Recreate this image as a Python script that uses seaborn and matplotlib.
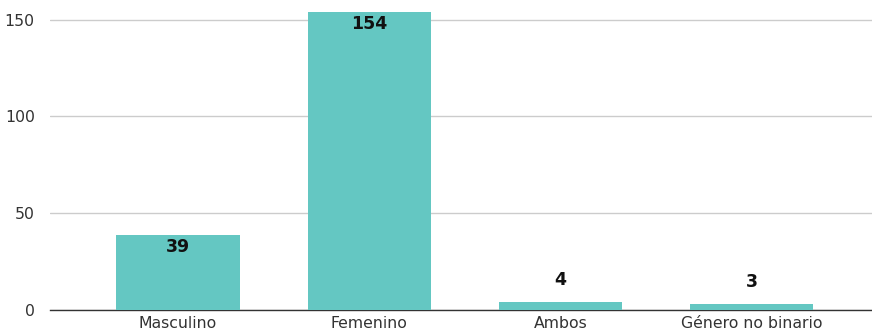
import matplotlib
matplotlib.use("Agg")
import matplotlib.pyplot as plt
import seaborn as sns
import pandas as pd

categories = ["Masculino", "Femenino", "Ambos", "Género no binario"]
values = [39, 154, 4, 3]
yticks = [0, 50, 100, 150]

sns.set_theme(style="white")
plt.rcParams['font.family'] = ['DejaVu Sans']

df = pd.DataFrame({"cat": categories, "val": values})

fig = plt.figure(figsize=(8.72, 3.36), dpi=100)
ax = fig.add_axes([50/872, 26/336, 1 - 50/872, (310 - 8)/336])

sns.barplot(data=df, x="cat", y="val", color="#64C7C2", saturation=1,
            width=0.645, ax=ax, zorder=3, linewidth=0)

ax.set_ylim(0, 156)
ax.set_xlim(-0.67, 3.63)
ax.set_yticks(yticks)
ax.yaxis.grid(True, color="#cccccc", linewidth=1, zorder=0)
ax.set_axisbelow(True)
for s in ["top", "right", "left"]:
    ax.spines[s].set_visible(False)
ax.spines["bottom"].set_color("#333333")
ax.spines["bottom"].set_linewidth(1)
ax.set_xlabel("")
ax.set_ylabel("")
ax.tick_params(axis="y", length=0, pad=11, labelsize=11.3, labelcolor="#333333")
ax.tick_params(axis="x", length=0, pad=4, labelsize=11.3, labelcolor="#333333")

for i, v in enumerate(values):
    off = -9 if v > 20 else 16
    ax.annotate(str(v), (i, v), xytext=(0, off), textcoords="offset points",
                ha="center", va="center", fontsize=12.5, fontweight="bold",
                color="#111111", zorder=5)

fig.savefig("out.png", dpi=100)
